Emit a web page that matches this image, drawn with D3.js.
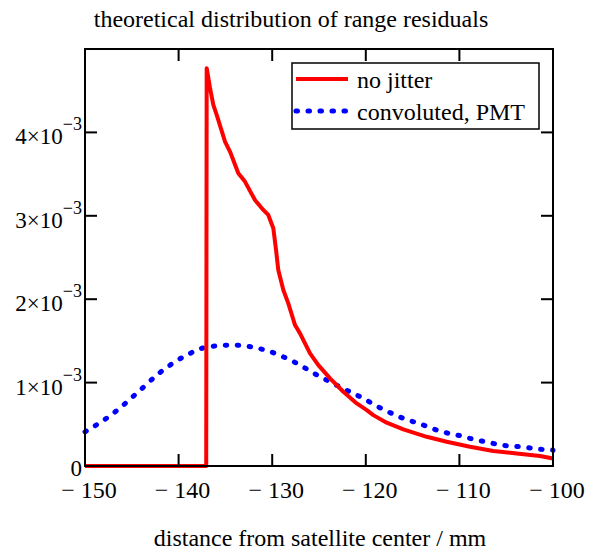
<!DOCTYPE html>
<html>
<head>
<meta charset="utf-8" />
<title>range residuals</title>
<style>
html, body { margin: 0; padding: 0; background: #fff; }
text { font-family: "Liberation Serif", "Times New Roman", serif; fill: #000; }
</style>
</head>
<body>
<svg id="chart" width="589" height="553"></svg>
<script src="https://cdnjs.cloudflare.com/ajax/libs/d3/7.8.5/d3.min.js"></script>
<script>
// values (x in mm, y as probability density)
var xTicks = [-150, -140, -130, -120, -110, -100]
var yTicks = [0, 1e-3, 2e-3, 3e-3, 4e-3]

var noJitterX = [-150, -137.05, -137.0, -136.64, -136.29, -135.93, -135.04, -134.51, -133.62, -132.91, -131.84, -130.95, -130.42, -129.88, -129.59, -129.35, -128.81, -128.28, -127.56, -127.03, -125.96, -125.07, -123.82, -122.40, -120.97, -119.90, -119.20, -117.77, -115.99, -113.49, -111.36, -108.87, -106.38, -103.88, -101.39, -100]
var noJitterY = [0, 0, 4.77e-3, 4.53e-3, 4.33e-3, 4.21e-3, 3.89e-3, 3.77e-3, 3.51e-3, 3.41e-3, 3.19e-3, 3.07e-3, 3.01e-3, 2.85e-3, 2.59e-3, 2.35e-3, 2.11e-3, 1.95e-3, 1.69e-3, 1.59e-3, 1.35e-3, 1.21e-3, 1.05e-3, 0.89e-3, 0.75e-3, 0.67e-3, 0.61e-3, 0.52e-3, 0.44e-3, 0.35e-3, 0.29e-3, 0.23e-3, 0.18e-3, 0.15e-3, 0.12e-3, 0.09e-3]

var pmtX = [-150, -147.0, -144.5, -142.0, -139.3, -136.8, -134.2, -132.9, -130.2, -127.7, -125.2, -122.8, -120.1, -118.7, -117.4, -116.2, -114.9, -113.6, -112.4, -111.1, -109.8, -108.5, -107.2, -105.9, -104.7, -103.3, -102.1, -100]
var pmtY = [0.41e-3, 0.63e-3, 0.87e-3, 1.12e-3, 1.32e-3, 1.43e-3, 1.45e-3, 1.44e-3, 1.37e-3, 1.25e-3, 1.09e-3, 0.95e-3, 0.80e-3, 0.71e-3, 0.64e-3, 0.58e-3, 0.53e-3, 0.48e-3, 0.43e-3, 0.39e-3, 0.36e-3, 0.32e-3, 0.29e-3, 0.26e-3, 0.24e-3, 0.23e-3, 0.21e-3, 0.19e-3]

var seriesNames = ["no jitter", "convoluted, PMT"]

!(function(){
    "use strict"

    var svg = d3.select("#chart")
    var left = 85, right = 553, top = 49, bottom = 466

    var x = d3.scaleLinear().domain([-150, -100]).range([left, right])
    var y = d3.scaleLinear().domain([0, 5e-3]).range([bottom, top])

    var plot = svg.append("g")

    // curves
    var line = d3.line().x(function(d){ return x(d[0]) }).y(function(d){ return y(d[1]) })

    plot.append("path")
        .attr("d", line.curve(d3.curveMonotoneX)(d3.zip(pmtX, pmtY)))
        .attr("fill", "none")
        .attr("stroke", "#0000ff")
        .attr("stroke-width", 5)
        .attr("stroke-linecap", "round")
        .attr("stroke-dasharray", "1.5 10.5")

    plot.append("path")
        .attr("d", line.curve(d3.curveLinear)(d3.zip(noJitterX, noJitterY)))
        .attr("fill", "none")
        .attr("stroke", "#ff0000")
        .attr("stroke-width", 4)
        .attr("stroke-linejoin", "round")

    // frame
    svg.append("rect")
        .attr("x", left).attr("y", top)
        .attr("width", right - left).attr("height", bottom - top)
        .attr("fill", "none").attr("stroke", "#000").attr("stroke-width", 2)

    // inward ticks on all four sides
    var tl = 12
    var ax = svg.append("g").attr("stroke", "#000").attr("stroke-width", 2)
    xTicks.slice(1, -1).forEach(function(t){
        ax.append("line").attr("x1", x(t)).attr("x2", x(t)).attr("y1", bottom).attr("y2", bottom - tl)
        ax.append("line").attr("x1", x(t)).attr("x2", x(t)).attr("y1", top).attr("y2", top + tl)
    })
    yTicks.slice(1).forEach(function(t){
        ax.append("line").attr("y1", y(t)).attr("y2", y(t)).attr("x1", left).attr("x2", left + tl)
        ax.append("line").attr("y1", y(t)).attr("y2", y(t)).attr("x1", right).attr("x2", right - tl)
    })

    // x tick labels
    svg.selectAll(".xl").data(xTicks).enter().append("text")
        .attr("x", function(d){ return x(d) + 4 })
        .attr("y", bottom + 32)
        .attr("text-anchor", "middle")
        .attr("font-size", 24)
        .text(function(d){ return "\u2212 " + Math.abs(d) })

    // y tick labels
    yTicks.forEach(function(t){
        var tx = svg.append("text")
            .attr("x", 82)
            .attr("y", y(t) + (t === 0 ? 10 : 12))
            .attr("text-anchor", "end")
            .attr("font-size", 23)
        if (t === 0) { tx.text("0"); return }
        tx.append("tspan").text(Math.round(t * 1000) + "\u00d710")
        tx.append("tspan").attr("dy", -14).attr("font-size", 18).text("\u22123")
    })

    // titles
    svg.append("text").attr("x", 291).attr("y", 27).attr("text-anchor", "middle")
        .attr("font-size", 24).text("theoretical distribution of range residuals")
    svg.append("text").attr("x", 320).attr("y", 546).attr("text-anchor", "middle")
        .attr("font-size", 24).text("distance from satellite center / mm")

    // legend
    var lg = svg.append("g")
    lg.append("rect").attr("x", 292).attr("y", 63).attr("width", 247).attr("height", 66)
        .attr("fill", "#fff").attr("stroke", "#000").attr("stroke-width", 1.5)
    lg.append("line").attr("x1", 296).attr("x2", 348).attr("y1", 79).attr("y2", 79)
        .attr("stroke", "#ff0000").attr("stroke-width", 4)
    lg.append("line").attr("x1", 296).attr("x2", 348).attr("y1", 111).attr("y2", 111)
        .attr("stroke", "#0000ff").attr("stroke-width", 5)
        .attr("stroke-linecap", "round").attr("stroke-dasharray", "1.5 10.5")
    lg.append("text").attr("x", 357).attr("y", 88).attr("font-size", 24).text(seriesNames[0])
    lg.append("text").attr("x", 357).attr("y", 120).attr("font-size", 24).text(seriesNames[1])
}());
</script>
</body>
</html>
